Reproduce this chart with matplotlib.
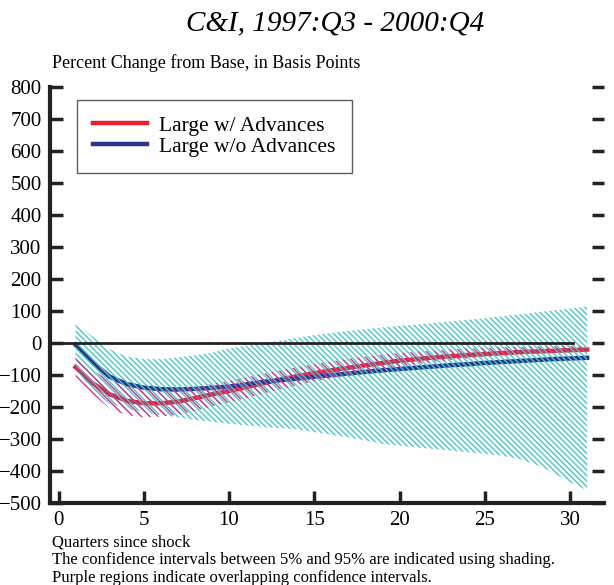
import matplotlib.pyplot as plt
import numpy as np

plt.rcParams['font.family'] = ['Liberation Serif', 'DejaVu Serif']
plt.rcParams['hatch.linewidth'] = 1.0

quarters = np.arange(1, 32)

# point estimates (basis points)
red_mid = [-75, -125, -160, -180, -188, -188, -183, -172, -160, -150, -138, -126, -114, -103, -94,
           -85, -77, -69, -62, -55, -50, -45, -41, -37, -34, -31, -28, -26, -24, -22, -20]
blue_mid = [-5, -60, -105, -128, -139, -144, -145, -143, -140, -136, -129, -121, -116, -111, -105,
            -100, -95, -90, -85, -81, -77, -73, -69, -66, -62, -59, -56, -53, -50, -48, -46]

# 5% / 95% bands
red_hi = [-45, -85, -115, -135, -145, -148, -145, -138, -128, -118, -107, -96, -85, -75, -66,
          -57, -49, -42, -36, -31, -27, -23, -20, -17, -15, -13, -12, -11, -10, -9, -8]
red_lo = [-105, -160, -205, -225, -232, -230, -224, -212, -198, -185, -172, -158, -145, -132, -120,
          -110, -100, -90, -82, -74, -66, -59, -53, -48, -43, -39, -36, -33, -31, -29, -28]
blue_hi = [65, 20, -20, -42, -50, -50, -45, -38, -30, -16, -8, 0, 8, 17, 25,
           32, 38, 44, 49, 54, 58, 63, 68, 73, 78, 84, 90, 96, 102, 108, 115]
blue_lo = [-80, -150, -190, -205, -215, -225, -232, -240, -246, -252, -257, -262, -266, -270, -278,
           -286, -295, -304, -315, -320, -326, -331, -336, -341, -346, -352, -362, -380, -405, -435, -460]

fig = plt.figure(figsize=(6.14, 5.85), dpi=100)
ax = fig.add_axes([0.0814, 0.140, 0.9026, 0.711])

ax.plot(quarters, red_mid, color='#e8202a', lw=3.2, zorder=2, label='Large w/ Advances')
ax.plot(quarters, blue_mid, color='#26348f', lw=3.2, zorder=2, label='Large w/o Advances')

ax.fill_between(quarters, blue_lo, blue_hi, facecolor='none', edgecolor='#48c6c6',
                hatch='\\' * 6, linewidth=0, zorder=3)
ax.fill_between(quarters, red_lo, red_hi, facecolor='none', edgecolor='#cc3399',
                hatch='\\' * 4, linewidth=0, zorder=3)

ax.plot([-0.5, 30.2], [0, 0], color='#222222', lw=2, zorder=4)

ax.set_xlim(-0.5, 32)
ax.set_ylim(-500, 800)
ax.set_xticks(range(0, 31, 5))
ax.set_yticks(range(-500, 801, 100))

for s in ['top', 'right']:
    ax.spines[s].set_visible(False)
for s in ['left', 'bottom']:
    ax.spines[s].set_linewidth(3)
    ax.spines[s].set_color('#222222')
ax.tick_params(direction='in', length=9, width=2.5, color='#222222', labelsize=15,
               right=True, pad=6)

ax.legend(loc='upper left', bbox_to_anchor=(0.048, 0.97), fontsize=15.5, frameon=True,
          fancybox=False, edgecolor='#333333', handlelength=2.5, borderpad=0.75,
          labelspacing=0.05, handletextpad=0.6, borderaxespad=0)

fig.text(0.545, 0.960, 'C&I, 1997:Q3 - 2000:Q4', fontsize=21, style='italic', ha='center', va='center')
fig.text(0.085, 0.893, 'Percent Change from Base, in Basis Points', fontsize=13, va='center')
fig.text(0.085, 0.0735, 'Quarters since shock', fontsize=12, va='center')
fig.text(0.085, 0.0425, 'The confidence intervals between 5% and 95% are indicated using shading.',
         fontsize=12, va='center')
fig.text(0.085, 0.012, 'Purple regions indicate overlapping confidence intervals.', fontsize=12, va='center')

fig.savefig('out.png', dpi=100)
